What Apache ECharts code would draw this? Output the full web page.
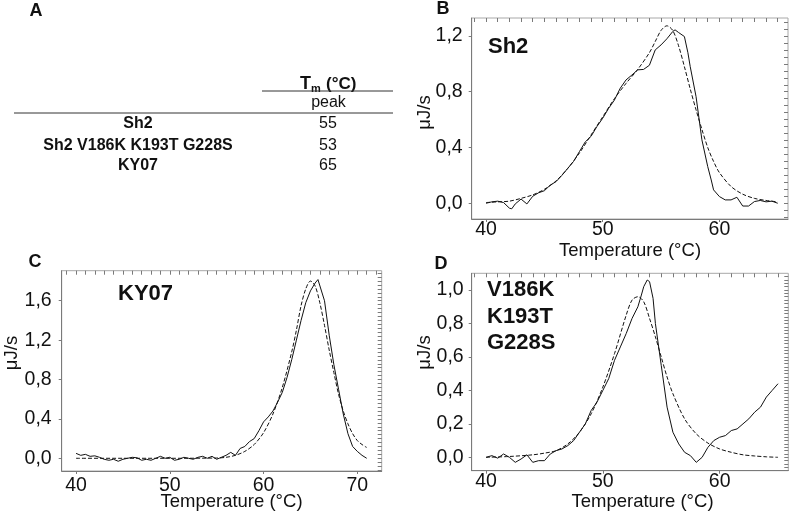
<!DOCTYPE html>
<html>
<head>
<meta charset="utf-8">
<script src="https://cdn.jsdelivr.net/npm/echarts@6/dist/echarts.min.js"></script>
<style>
html,body{margin:0;padding:0;background:#fff;}
#chart{width:794px;height:513px;}
</style>
</head>
<body>
<div id="chart"></div>
<script>
// ---------- Panel A table ----------
const tableRows = ['Sh2', 'Sh2 V186K K193T G228S', 'KY07'];
const tableTm = ['55', '53', '65'];

// ---------- Panel B: Sh2 ----------
const shTemp = [40,40.5,41,41.5,42,42.2,42.5,43,43.5,44,44.5,45,45.5,46,46.5,47,47.5,48,48.5,49,49.5,50,50.5,51,51.5,52,52.5,53,53.5,54,54.5,55,55.5,56,56.2,56.5,57,57.3,57.5,58,58.5,59,59.3,59.5,60,60.5,61,61.5,62,62.5,63,63.5,64,64.5,65];
const shObs  = [0,0.01,0.015,0.005,-0.035,-0.04,-0.005,0.03,-0.005,0.05,0.075,0.09,0.13,0.155,0.2,0.25,0.3,0.37,0.44,0.48,0.55,0.61,0.68,0.74,0.825,0.885,0.92,0.957,0.96,0.99,1.1,1.136,1.18,1.232,1.244,1.225,1.196,1.08,0.98,0.765,0.455,0.263,0.167,0.096,0.048,0.024,0.024,0.043,-0.02,-0.02,0.012,0.02,0.01,0.015,0];
const shFitTemp = [40,41,42,43,44,45,46,47,48,49,50,51,52,53,54,54.5,55,55.5,56,56.5,57,57.5,58,58.5,59,59.5,60,61,62,63,64,65];
const shFit     = [0.005,0.01,0.015,0.035,0.06,0.1,0.16,0.25,0.36,0.49,0.62,0.75,0.86,0.96,1.08,1.16,1.24,1.273,1.24,1.13,0.98,0.82,0.67,0.53,0.4,0.3,0.22,0.12,0.065,0.035,0.02,0.01];

// ---------- Panel C: KY07 ----------
const kyTemp = [40,40.5,41,41.5,42,42.5,43,43.5,44,44.5,45,45.5,46,46.5,47,47.5,48,48.5,49,49.5,50,50.5,51,51.5,52,52.5,53,53.5,54,54.5,55,55.5,56,56.5,57,57.5,58,58.5,59,59.5,60,60.5,61,61.5,62,62.5,63,63.5,64,64.5,65,65.5,65.8,66,66.5,67,67.5,68,68.5,69,69.5,70,70.5,71];
const kyObs  = [0.05,0.03,0.04,0.02,0.025,0.01,-0.01,-0.02,-0.01,-0.03,-0.01,0,0.01,0.005,-0.02,-0.01,-0.02,0,0.02,0,0.01,-0.02,-0.01,0.01,0,-0.01,0.01,0.02,0,0.02,-0.01,0.01,0.03,0.06,0.03,0.1,0.12,0.17,0.2,0.28,0.37,0.42,0.48,0.57,0.67,0.82,1.0,1.2,1.4,1.58,1.7,1.78,1.815,1.8,1.6,1.25,0.95,0.7,0.45,0.25,0.12,0.07,0.03,0];
const kyFitTemp = [40,45,50,55,56,57,58,59,60,61,62,63,63.5,64,64.5,65,65.5,66,66.5,67,67.5,68,68.5,69,69.5,70,70.5,71];
const kyFit     = [0,0,0,0.003,0.01,0.03,0.07,0.14,0.26,0.45,0.72,1.08,1.3,1.55,1.72,1.8,1.75,1.58,1.35,1.1,0.87,0.65,0.48,0.35,0.25,0.18,0.14,0.11];

// ---------- Panel D: V186K K193T G228S ----------
const mutTemp = [40,40.5,41,41.5,42,42.5,43,43.5,44,44.5,45,45.5,46,46.5,47,47.5,48,48.5,49,49.5,50,50.5,51,51.5,52,52.5,53,53.3,53.5,53.8,54,54.3,54.5,55,55.5,56,56.5,57,57.5,58,58.5,59,59.5,60,60.5,61,61.5,62,62.5,63,63.5,64,64.5,65];
const mutObs  = [0,0.01,-0.005,0.02,0,-0.03,-0.01,0.015,-0.03,-0.02,-0.02,0.02,0.04,0.05,0.07,0.1,0.15,0.2,0.28,0.33,0.4,0.47,0.58,0.66,0.74,0.83,0.9,0.97,1.02,1.06,1.05,0.95,0.8,0.55,0.3,0.15,0.08,0.03,0.01,-0.03,0,0.06,0.1,0.12,0.13,0.16,0.17,0.2,0.23,0.27,0.3,0.36,0.4,0.44];
const mutFitTemp = [40,42,44,45,46,47,48,49,50,51,52,52.5,53,53.5,54,54.5,55,55.5,56,57,58,59,60,61,62,63,64,65];
const mutFit     = [0,0.005,0.015,0.025,0.04,0.08,0.15,0.26,0.42,0.62,0.85,0.94,0.96,0.93,0.83,0.72,0.6,0.48,0.38,0.23,0.14,0.085,0.05,0.03,0.015,0.008,0.003,0];

// ---------- Ticks ----------
const tempLabelsB = [40, 50, 60];
const tempLabelsC = [40, 50, 60, 70];
const tempLabelsD = [40, 50, 60];
const tempMinorB = [39,40,41,42,43,44,45,46,47,48,49,50,51,52,53,54,55,56,57,58,59,60,61,62,63,64,65];
const tempMinorC = [39,40,41,42,43,44,45,46,47,48,49,50,51,52,53,54,55,56,57,58,59,60,61,62,63,64,65,66,67,68,69,70,71,72];
const yLabelsB = [0, 0.4, 0.8, 1.2];
const yLabelsC = [0, 0.4, 0.8, 1.2, 1.6];
const yLabelsD = [0, 0.2, 0.4, 0.6, 0.8, 1.0];

function steps(a, b, s) { const r = []; const n = Math.round((b - a) / s); for (let i = 0; i <= n; i++) r.push(+(a + i * s).toFixed(3)); return r; }
const yMinorB = steps(-0.1, 1.3, 0.05);
const yMinorC = steps(-0.12, 1.88, 0.04);
const yMinorD = steps(-0.08, 1.08, 0.02);

const FONT = "'Liberation Sans', Arial, sans-serif";
const AXC = '#7a7a7a';
const fmt = v => Number(v).toFixed(1).replace('.', ',');
const pairs = (xs, ys) => xs.map((x, i) => [x, ys[i]]);

const grids = [
  {left: 471.7, top: 18, width: 316.3, height: 201},
  {left: 61.7, top: 270.7, width: 320, height: 200.3},
  {left: 471.7, top: 273.3, width: 316.6, height: 197.4}
];
const xr = [[38.77, 65.88], [38.47, 72.6], [38.77, 65.88]];
const yr = [[-0.113, 1.329], [-0.129, 1.905], [-0.08, 1.1]];
const xLab = [tempLabelsB, tempLabelsC, tempLabelsD];
const xMin = [tempMinorB, tempMinorC, tempMinorB];
const yLab = [yLabelsB, yLabelsC, yLabelsD];
const yMin = [yMinorB, yMinorC, yMinorD];
const xMargin = [1, 5, 1];
const yMargin = [9, 10, 8];
const LBL = 19.5;

const xAxes = [], yAxes = [];
grids.forEach((g, i) => {
  xAxes.push({type: 'value', gridIndex: i, min: xr[i][0], max: xr[i][1], splitLine: {show: false},
    axisLine: {show: true, onZero: false, lineStyle: {color: AXC, width: 1}},
    axisTick: {show: true, customValues: xLab[i], length: 3, lineStyle: {color: AXC}},
    axisLabel: {customValues: xLab[i], margin: xMargin[i], fontSize: LBL, fontFamily: FONT, color: '#111'}});
  xAxes.push({type: 'value', gridIndex: i, min: xr[i][0], max: xr[i][1], splitLine: {show: false},
    axisLine: {show: false, onZero: false},
    axisTick: {show: true, inside: true, customValues: xMin[i], length: 4, lineStyle: {color: AXC}},
    axisLabel: {show: false}});
  yAxes.push({type: 'value', gridIndex: i, min: yr[i][0], max: yr[i][1], splitLine: {show: false},
    axisLine: {show: true, onZero: false, lineStyle: {color: AXC, width: 1}},
    axisTick: {show: true, customValues: yLab[i], length: 3, lineStyle: {color: AXC}},
    axisLabel: {customValues: yLab[i], margin: yMargin[i], fontSize: LBL, fontFamily: FONT, color: '#111', formatter: fmt}});
  yAxes.push({type: 'value', gridIndex: i, min: yr[i][0], max: yr[i][1], splitLine: {show: false},
    axisLine: {show: false, onZero: false},
    axisTick: {show: true, inside: true, customValues: yMin[i], length: 4, lineStyle: {color: AXC}},
    axisLabel: {show: false}});
});

const solid = {color: '#111', width: 1};
const dashed = {color: '#111', width: 1, type: [4, 2]};
function ser(gi, data, ls, smooth) {
  return {type: 'line', xAxisIndex: gi * 2, yAxisIndex: gi * 2, data: data, symbol: 'none', showSymbol: false,
    lineStyle: ls, smooth: smooth || false, silent: true, animation: false};
}
const series = [
  ser(0, pairs(shTemp, shObs), solid), ser(0, pairs(shFitTemp, shFit), dashed, 0.3),
  ser(1, pairs(kyTemp, kyObs), solid), ser(1, pairs(kyFitTemp, kyFit), dashed, 0.3),
  ser(2, pairs(mutTemp, mutObs), solid), ser(2, pairs(mutFitTemp, mutFit), dashed, 0.3)
];

function txt(x, y, s, size, bold, align, rot) {
  const e = {type: 'text', x: x, y: y, style: {text: s, fontSize: size, fontWeight: bold ? 'bold' : 'normal',
    fontFamily: FONT, fill: '#111', align: align || 'center', verticalAlign: 'middle'}, silent: true};
  if (rot) e.rotation = rot;
  return e;
}
const graphics = [
  txt(36, 11, 'A', 18, true), txt(443, 9, 'B', 18, true), txt(35, 262, 'C', 18, true), txt(441, 264, 'D', 18, true),
  txt(488, 47, 'Sh2', 22, true, 'left'),
  txt(118, 294, 'KY07', 22, true, 'left'),
  txt(487, 290, 'V186K', 22, true, 'left'), txt(487, 316.5, 'K193T', 22, true, 'left'), txt(487, 342.5, 'G228S', 22, true, 'left'),
  txt(630, 251, 'Temperature (°C)', 18.5, false), txt(231.5, 502, 'Temperature (°C)', 18.5, false), txt(642.5, 502, 'Temperature (°C)', 18.5, false),
  txt(425, 112.5, 'μJ/s', 18.5, false, 'center', Math.PI / 2), txt(12, 353, 'μJ/s', 18.5, false, 'center', Math.PI / 2), txt(425, 352.5, 'μJ/s', 18.5, false, 'center', Math.PI / 2),
  txt(300, 84, 'T', 18, true, 'left'), txt(311, 88.5, 'm', 11, true, 'left'), txt(326, 84, '(°C)', 17, true, 'left'),
  {type: 'line', shape: {x1: 262, y1: 91, x2: 393, y2: 91}, style: {stroke: '#333', lineWidth: 1}, silent: true},
  txt(328.5, 103, 'peak', 16, false),
  {type: 'line', shape: {x1: 14, y1: 113, x2: 393, y2: 113}, style: {stroke: '#333', lineWidth: 1}, silent: true}
];
const rowY = [124, 146, 166];
tableRows.forEach((r, i) => { graphics.push(txt(138, rowY[i], r, 16, true)); graphics.push(txt(328, rowY[i], tableTm[i], 16, false)); });

const chart = echarts.init(document.getElementById('chart'), null, {renderer: 'canvas'});
chart.setOption({
  animation: false,
  backgroundColor: '#fff',
  grid: grids.map(g => Object.assign({show: true, borderColor: '#a8a8a8', borderWidth: 1, containLabel: false}, g)),
  xAxis: xAxes,
  yAxis: yAxes,
  series: series,
  graphic: graphics
});
</script>
</body>
</html>
